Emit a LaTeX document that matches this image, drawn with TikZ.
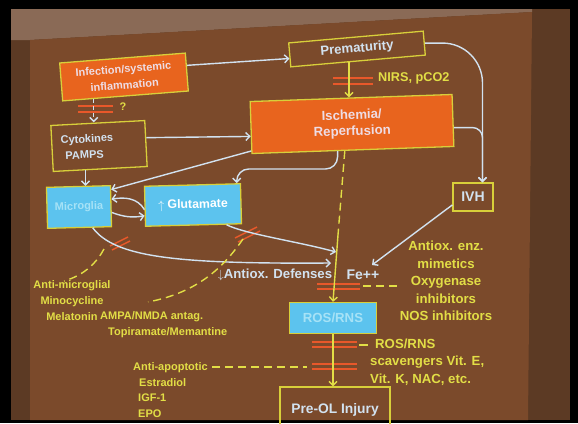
\documentclass[tikz,border=0pt]{standalone}
\usepackage{fontspec}
\setmainfont{Liberation Sans}
\usetikzlibrary{arrows.meta}

\definecolor{slidebrown}{HTML}{7B4A2B}
\definecolor{wallbrown}{HTML}{5C3A24}
\definecolor{walltop}{HTML}{8A6A56}
\definecolor{boxorange}{HTML}{E8641E}
\definecolor{boxcyan}{HTML}{5CC3EE}
\definecolor{edgeyellow}{HTML}{D8CF3A}
\definecolor{textyellow}{HTML}{E2DE46}
\definecolor{linkblue}{HTML}{D2E2F0}
\definecolor{barred}{HTML}{E8582A}
\definecolor{textpale}{HTML}{EEDCE4}
\definecolor{textfaint}{HTML}{A6E2F6}

\newcommand{\slidesmall}{\fontsize{11}{16}\selectfont\bfseries}
\newcommand{\slidebig}{\fontsize{13.2}{16}\selectfont\bfseries}

\begin{document}
\begin{tikzpicture}[x=1pt,y=-1pt,
  box/.style={draw=edgeyellow, line width=1.3pt, inner sep=2pt, align=center},
  orangebox/.style={box, fill=boxorange, text=textpale},
  cyanbox/.style={box, fill=boxcyan},
  linebox/.style={box, text=linkblue},
  flow/.style={draw=linkblue, line width=1.4pt, -{Straight Barb[length=4pt,width=8pt]}},
  ylink/.style={draw=textyellow, line width=1.4pt},
  ydash/.style={ylink, dash pattern=on 8pt off 5pt},
  yarrow/.style={ylink, -{Straight Barb[length=4pt,width=8pt]}},
  bar/.style={draw=barred, line width=1.4pt},
  ytext/.style={text=textyellow, inner sep=1pt}]

\useasboundingbox (0,0) rectangle (578,423);

% photo of the slide
\fill[black] (0,0) rectangle (578,423);
\fill[wallbrown] (11,9) rectangle (570,420);
\fill[walltop] (11,9) -- (532,9) -- (532,12) -- (30,40) -- (11,40) -- cycle;
\fill[slidebrown] (30,40) -- (532,12) -- (528,420) -- (30,420) -- cycle;

% boxes
\node[orangebox, rotate=4.5, minimum width=126, minimum height=38, font=\slidesmall] (infect) at (124,77) {Infection/systemic\\inflammation};
\node[linebox, rotate=5, minimum width=135, minimum height=24, font=\slidebig] (prem) at (357,49) {Prematurity};
\node[orangebox, rotate=2, minimum width=202, minimum height=52, font=\slidebig] (isch) at (352,124) {Ischemia/\\Reperfusion};
\node[linebox, rotate=3, minimum width=94, minimum height=46, text width=76, align=left, font=\slidesmall] (cyto) at (99,146) {Cytokines\\\hspace*{4pt}PAMPS};
\node[cyanbox, rotate=1.5, minimum width=64, minimum height=41, text=textfaint, font=\slidesmall] (micro) at (79,207) {Microglia};
\node[cyanbox, rotate=1.5, minimum width=96, minimum height=40, text=white, font=\fontsize{12.3}{14}\selectfont\bfseries] (glut) at (193,205) {$\uparrow$\ Glutamate};
\node[linebox, minimum width=40, minimum height=28, font=\fontsize{14}{16}\selectfont\bfseries] (ivh) at (473,197) {IVH};
\node[text=linkblue, inner sep=1pt, font=\slidebig] (antiox) at (275,275) {$\downarrow$Antiox. Defenses};
\node[text=linkblue, inner sep=1pt, font=\fontsize{14}{16}\selectfont\bfseries] (fe) at (363,275) {Fe++};
\node[cyanbox, minimum width=87, minimum height=31, text=textfaint, font=\slidebig] (ros) at (333,318) {ROS/RNS};
\node[linebox, minimum width=110, minimum height=46, font=\fontsize{13.8}{16}\selectfont\bfseries] (preol) at (335,410) {Pre-OL Injury};

% yellow remarks
\node[ytext, anchor=west, font=\fontsize{12.7}{15}\selectfont\bfseries] (nirs) at (377,78) {NIRS, pCO2};
\node[ytext, font=\slidesmall] (qmark) at (123,107) {?};
\node[ytext, align=center, font=\slidesmall] (antimicro) at (72,301) {Anti-microglial\\Minocycline\\Melatonin};
\node[ytext, align=left, anchor=west, font=\slidesmall] (ampa) at (99,325) {AMPA/NMDA antag.\\\hspace*{8pt}Topiramate/Memantine};
\node[ytext, align=left, anchor=west, font=\fontsize{11}{15.5}\selectfont\bfseries] (antiapop) at (132,390) {Anti-apoptotic\\\hspace*{6pt}Estradiol\\\hspace*{5pt}IGF-1\\\hspace*{5pt}EPO};
\node[ytext, align=center, font=\fontsize{13.2}{17.5}\selectfont\bfseries] (antioxenz) at (446,281) {Antiox. enz.\\mimetics\\Oxygenase\\inhibitors\\NOS inhibitors};
\node[ytext, align=left, anchor=west, font=\fontsize{13.2}{17.5}\selectfont\bfseries] (scav) at (369,362) {\hspace*{5pt}ROS/RNS\\scavengers Vit. E,\\Vit. K, NAC, etc.};

% blocking bars
\foreach \y in {78,84}
    \draw[bar] (333,\y) -- (373,\y);
\foreach \y in {106,112}
    \draw[bar] (78,\y) -- (113,\y);
\foreach \y in {284,289}
    \draw[bar] (317,\y) -- (360,\y);
\foreach \y in {342,347,364,369}
    \draw[bar] (312,\y) -- (357,\y);
\draw[bar] (110,246) -- (128,237);
\draw[bar] (112,250) -- (130,241);
\draw[bar] (235,238) -- (257,227);
\draw[bar] (238,242) -- (260,231);

\coordinate (bendg) at (300,169);
\coordinate (hitA) at (336,252);
\coordinate (hitB) at (331,263);
\coordinate (hitC) at (372,265);
\coordinate (ysolid) at (338,235);
\coordinate (barM) at (104,249);
\coordinate (barG) at (243,239);
\coordinate (barFe) at (363,286);
\coordinate (barR) at (359,345);
\coordinate (apopend) at (212,367);
\coordinate (barA) at (307,367);
\coordinate (endM) at (64,281);
\coordinate (endG) at (148,302);

% arrows
\draw[flow] (infect.6) -- (prem.183);
\draw[flow, rounded corners=40pt] (prem.east) -| (ivh.57);
\draw[flow, rounded corners=10pt] (isch.-4) -| (ivh.57);
\draw[flow, dash pattern=on 4pt off 3pt, shorten <=2pt] ([xshift=-4pt]cyto.north |- infect.south) -- ([xshift=-4pt]cyto.north);
\draw[flow] (cyto.7) -- (isch.185);
\draw[flow] ([xshift=7pt]micro.north |- cyto.south) -- ([xshift=7pt]micro.north);
\draw[flow] (isch.193) -- (micro.27);
\draw[flow, rounded corners=12pt] (isch.240) |- (bendg) -| (glut.25);
\draw[flow] (glut.184) to[out=120, in=10] (micro.12);
\draw[flow] (micro.-11) to[out=-20, in=190] (glut.191);
\draw[flow] (glut.-32) .. controls (245,234) and (300,242) .. (hitA);
\draw[flow] (micro.-58) .. controls (115,258) and (180,264) .. (hitB);
\draw[flow] (ivh.201) -- (hitC);

% yellow paths
\draw[yarrow] ([xshift=-9pt]prem.south) -- ([xshift=-9pt]prem.south |- isch.north);
\draw[ydash] (isch.253) -- (ysolid);
\draw[yarrow] (ysolid) -- (ros.north);
\draw[yarrow] (ros.south) -- (ros.south |- preol.north);
\draw[ydash] (barFe) -- ++(38,0);
\draw[ylink] (barR) -- ++(9,0);
\draw[ydash] (apopend) -- (barA);
\draw[ydash] (barM) .. controls (97,262) and (85,275) .. (endM);
\draw[ydash] (barG) .. controls (225,265) and (200,292) .. (endG);

\end{tikzpicture}
\end{document}
